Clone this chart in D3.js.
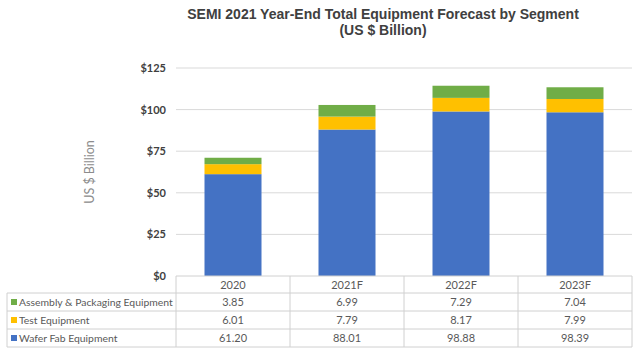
<!DOCTYPE html>
<html><head><meta charset="utf-8">
<script src="https://cdn.jsdelivr.net/npm/d3@7"></script>
<style>body{margin:0;background:#fff}svg{display:block}</style>
</head><body><svg id="c" width="638" height="355"></svg>
<script>
const categories = ["2020", "2021F", "2022F", "2023F"];
const seriesNames = ["Wafer Fab Equipment", "Test Equipment", "Assembly & Packaging Equipment"];
const waferFab = [61.20, 88.01, 98.88, 98.39];
const testEquip = [6.01, 7.79, 8.17, 7.99];
const assembly = [3.85, 6.99, 7.29, 7.04];
const yTicks = [0, 25, 50, 75, 100, 125];
const colors = ["#4472C4", "#FFC000", "#70AD47"];

const svg = d3.select("#c");
const plotL = 176, plotR = 632, y0 = 276, yTop = 68;
const x = d3.scaleBand().domain(categories).range([plotL, plotR]).paddingInner(0.5).paddingOuter(0.25);
const xCol = d3.scaleBand().domain(categories).range([plotL, plotR]);
const y = d3.scaleLinear().domain([0, 125]).range([y0, yTop]);

// title
svg.append("text").attr("x", 383).attr("y", 19).attr("text-anchor", "middle")
  .attr("font-family", "Liberation Sans, Arial").attr("font-weight", "bold").attr("font-size", 14).attr("fill", "#404040")
  .text("SEMI 2021 Year-End Total Equipment Forecast by Segment");
svg.append("text").attr("x", 383).attr("y", 35).attr("text-anchor", "middle")
  .attr("font-family", "Liberation Sans, Arial").attr("font-weight", "bold").attr("font-size", 14).attr("fill", "#404040")
  .text("(US $ Billion)");

// gridlines
svg.append("g").selectAll("line").data(yTicks.filter(d => d > 0)).join("line")
  .attr("x1", plotL).attr("x2", plotR).attr("y1", d => y(d)).attr("y2", d => y(d))
  .attr("stroke", "#d9d9d9").attr("stroke-width", 1);

// y axis labels
const yAxis = d3.axisLeft(y).tickValues(yTicks).tickSize(0).tickPadding(0).tickFormat(d => "$" + d);
const ya = svg.append("g").attr("transform", `translate(166,0)`).call(yAxis);
ya.select(".domain").remove();
ya.selectAll("text").attr("font-family", "Lato, Calibri, sans-serif").attr("font-weight", "bold").attr("font-size", 11).attr("fill", "#404040");

svg.append("text").attr("transform", "translate(94,172) rotate(-90)").attr("text-anchor", "middle")
  .attr("font-family", "Lato, Calibri, sans-serif").attr("font-size", 12.5).attr("fill", "#8c8c8c").text("US $ Billion");

// stacked bars
const rows = categories.map((c, i) => ({cat: c, wafer: waferFab[i], test: testEquip[i], assembly: assembly[i]}));
const stack = d3.stack().keys(["wafer", "test", "assembly"])(rows);
svg.append("g").selectAll("g").data(stack).join("g").attr("fill", (d, i) => colors[i])
  .selectAll("rect").data(d => d).join("rect")
  .attr("x", d => x(d.data.cat)).attr("width", x.bandwidth())
  .attr("y", d => y(d[1])).attr("height", d => y(d[0]) - y(d[1]));

// data table
const tableL = 7, headerTop = y0;
const rowTops = [293, 311, 329, 347];
const tg = svg.append("g");
const lineCol = "#d0d0d0";
xCol.domain().forEach(c => {
  tg.append("line").attr("x1", xCol(c)).attr("x2", xCol(c)).attr("y1", headerTop).attr("y2", rowTops[3]).attr("stroke", lineCol);
});
tg.append("line").attr("x1", plotR).attr("x2", plotR).attr("y1", headerTop).attr("y2", rowTops[3]).attr("stroke", lineCol);
tg.append("line").attr("x1", tableL).attr("x2", tableL).attr("y1", rowTops[0]).attr("y2", rowTops[3]).attr("stroke", lineCol);
rowTops.forEach(t => {
  tg.append("line").attr("x1", tableL).attr("x2", plotR).attr("y1", t).attr("y2", t).attr("stroke", lineCol);
});
tg.append("line").attr("x1", plotL).attr("x2", plotR).attr("y1", y0).attr("y2", y0).attr("stroke", lineCol);

const font = "Lato, Calibri, sans-serif";
tg.selectAll("text.h").data(categories).join("text").attr("class", "h")
  .attr("x", d => xCol(d) + xCol.bandwidth() / 2).attr("y", headerTop + 12.5).attr("text-anchor", "middle")
  .attr("font-family", font).attr("font-size", 11).attr("fill", "#595959").text(d => d);

const tableRows = [
  {name: seriesNames[2], vals: assembly, color: colors[2]},
  {name: seriesNames[1], vals: testEquip, color: colors[1]},
  {name: seriesNames[0], vals: waferFab, color: colors[0]}
];
tableRows.forEach((r, i) => {
  const top = rowTops[i];
  tg.append("rect").attr("x", 11).attr("y", top + 6).attr("width", 6).attr("height", 6).attr("fill", r.color);
  tg.append("text").attr("x", 19).attr("y", top + 13).attr("font-family", font).attr("font-size", 10.4)
    .attr("fill", "#595959").text(r.name);
  tg.selectAll(null).data(categories).join("text")
    .attr("x", d => xCol(d) + xCol.bandwidth() / 2).attr("y", top + 13).attr("text-anchor", "middle")
    .attr("font-family", font).attr("font-size", 11).attr("fill", "#595959")
    .text((d, j) => r.vals[j].toFixed(2));
});
</script></body></html>
